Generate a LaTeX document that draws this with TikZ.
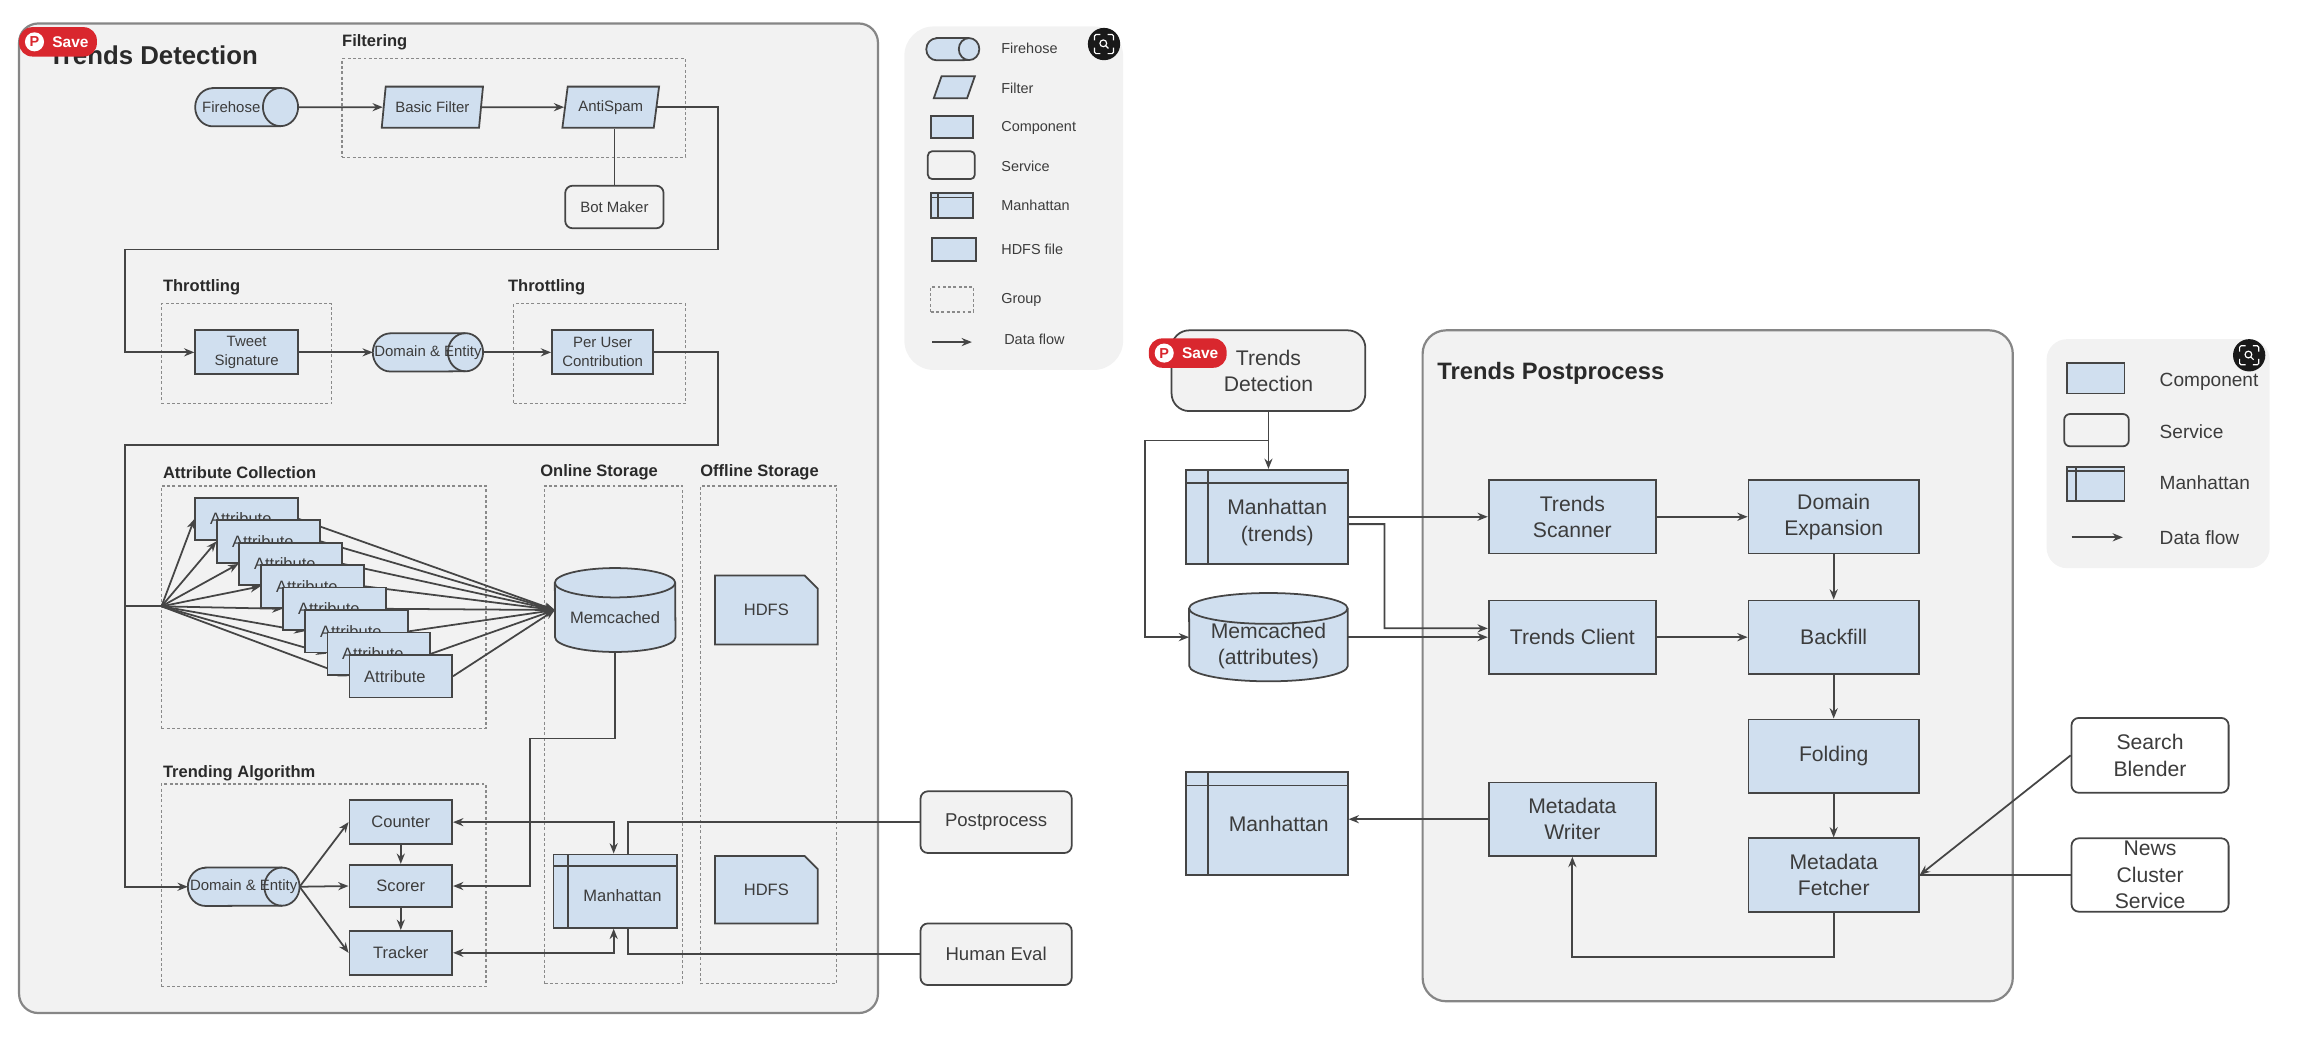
\documentclass[tikz,border=0pt]{standalone}
\usepackage{fontspec}
\setmainfont{Liberation Sans}
\usetikzlibrary{arrows.meta,shapes.geometric,shapes.misc}
\definecolor{compc}{HTML}{D0DFEF}
\definecolor{panelc}{HTML}{F2F2F2}
\definecolor{linec}{HTML}{454545}
\definecolor{textc}{HTML}{3C3C3C}
\definecolor{grpc}{HTML}{8A8A8A}
\definecolor{savec}{HTML}{D9272E}
\newcommand{\smtxt}{\fontsize{29pt}{37pt}\selectfont}
\newcommand{\midtxt}{\fontsize{32pt}{38pt}\selectfont}
\newcommand{\svctxt}{\fontsize{36pt}{40pt}\selectfont}
\newcommand{\bigtxt}{\fontsize{41pt}{51pt}\selectfont}
\newcommand{\legtxt}{\fontsize{28pt}{34pt}\selectfont}
\newcommand{\legbig}{\fontsize{37pt}{44pt}\selectfont}
\newcommand{\headtxt}{\fontsize{32pt}{38pt}\selectfont\bfseries}
\pgfdeclarelayer{panels}
\pgfdeclarelayer{links}
\pgfsetlayers{panels,links,main}
\tikzset{
  ln/.style={draw=linec,line width=1.2mm},
  ar/.style={ln,-{Stealth[length=7mm,width=5.5mm]}},
  arb/.style={ln,{Stealth[length=7mm,width=5.5mm]}-{Stealth[length=7mm,width=5.5mm]}},
  base/.style={draw=linec,line width=1.2mm,text=textc,align=center,inner sep=0pt,font=\smtxt},
  txt/.style={base,draw=none},
  comp/.style={base,rectangle,fill=compc},
  svc/.style={base,rectangle,rounded corners=5mm,fill=panelc},
  filt/.style={base,trapezium,fill=compc,trapezium left angle=74,trapezium right angle=106,trapezium stretches=true},
  % side-on cylinder: end radius, half height
  hcyl/.style 2 args={rectangle,inner sep=0pt,append after command={\pgfextra{
    \let\cylnode\tikzlastnode
    \draw[base,fill=compc] ([xshift=#1mm]\cylnode.north west)--([xshift=-#1mm]\cylnode.north east)
      arc (90:-90:#1mm and #2mm)--([xshift=#1mm]\cylnode.south west) arc (270:90:#1mm and #2mm)--cycle;
    \draw[base] ([xshift=-#1mm]\cylnode.north east) arc (90:270:#1mm and #2mm);}}},
  % upright cylinder: half width, lid radius
  hcan/.style 2 args={rectangle,inner sep=0pt,append after command={\pgfextra{
    \let\cylnode\tikzlastnode
    \draw[base,fill=compc] ([yshift=-#2mm]\cylnode.north west) arc (180:0:#1mm and #2mm)
      --([yshift=#2mm]\cylnode.south east) arc (0:-180:#1mm and #2mm)--cycle;
    \draw[base] ([yshift=-#2mm]\cylnode.north west) arc (180:360:#1mm and #2mm);}}},
  hdfs/.style={base,chamfered rectangle,fill=compc,chamfered rectangle corners=north east,chamfered rectangle xsep=5mm,chamfered rectangle ysep=5mm},
  manh/.style 2 args={comp,path picture={
    \draw[ln] ([xshift=#1mm]path picture bounding box.north west)--([xshift=#1mm]path picture bounding box.south west);
    \draw[ln] ([yshift=-#2mm]path picture bounding box.north west)--([yshift=-#2mm]path picture bounding box.north east);}},
  grp/.style={draw=grpc,line width=.8mm,dash pattern=on 2mm off 1.6mm,rectangle},
  panel/.style={draw=gray!95,line width=1.5mm,fill=panelc,rectangle},
  head/.style={anchor=west,text=textc!70!black,font=\headtxt,inner sep=0pt},
  legl/.style={anchor=west,text=textc,font=\legtxt,inner sep=0pt},
  legr/.style={anchor=west,text=textc,font=\legbig,inner sep=0pt},
  savebtn/.pic={
    \node (pill) [rectangle,rounded corners=9mm,fill=savec,minimum width=53mm,minimum height=20mm] at (0,0) {};
    \fill[white] (-16,0) circle (6.5);
    \node (pee) [text=savec,font=\fontsize{28pt}{28pt}\selectfont\bfseries,inner sep=0pt] at (-16,0) {P};
    \node (word) [text=white,font=\fontsize{30pt}{30pt}\selectfont\bfseries,inner sep=0pt] at (8.5,0) {Save};
  },
  lens/.pic={
    \fill[black!90] (0,0) circle (11);
    \draw[white,line width=.8mm,rounded corners=1mm] (-6.5,-2.5)--(-6.5,-6.5)--(-2.5,-6.5) (2.5,-6.5)--(6.5,-6.5)--(6.5,-2.5) (6.5,2.5)--(6.5,6.5)--(2.5,6.5) (-2.5,6.5)--(-6.5,6.5)--(-6.5,2.5);
    \draw[white,line width=.8mm] (-.5,-.5) circle (2.3) (1.2,1.2)--(3,3);
  }
}
\begin{document}
\begin{tikzpicture}[x=1mm,y=-1mm]
\useasboundingbox (0,0) rectangle (1568,706);
\begin{pgfonlayer}{panels}
\node (detpanel) [panel,rounded corners=13mm,minimum width=585mm,minimum height=674mm] at (305.5,353) {};
\node (postpanel) [panel,rounded corners=16mm,minimum width=402mm,minimum height=457mm] at (1170,453.5) {};
\node (legleft) [rectangle,fill=panelc,rounded corners=20mm,minimum width=149mm,minimum height=234mm] at (690.5,135) {};
\node (legright) [rectangle,fill=panelc,rounded corners=14mm,minimum width=152mm,minimum height=156mm] at (1470,309) {};
\node (filtgrp) [grp,minimum width=234mm,minimum height=67mm] at (350,73.5) {};
\node (thrgrpa) [grp,minimum width=116mm,minimum height=68mm] at (168,241) {};
\node (thrgrpb) [grp,minimum width=117mm,minimum height=68mm] at (408.5,241) {};
\node (attrgrp) [grp,minimum width=221mm,minimum height=165mm] at (220.5,413.5) {};
\node (onlgrp) [grp,minimum width=94mm,minimum height=339mm] at (418,500.5) {};
\node (offgrp) [grp,minimum width=93mm,minimum height=339mm] at (523.5,500.5) {};
\node (trdgrp) [grp,minimum width=221mm,minimum height=138mm] at (220.5,603) {};
\end{pgfonlayer}
\node (dettitle) [head,font=\fontsize{50pt}{50pt}\selectfont\bfseries] at (33,37.5) {Trends Detection};
\node (filthead) [head] at (233,29) {Filtering};
\node (thrheada) [head] at (111,196) {Throttling};
\node (thrheadb) [head] at (346,196) {Throttling};
\node (attrhead) [head] at (111,322) {Attribute Collection};
\node (onlhead) [head] at (368,322) {Online Storage};
\node (offhead) [head] at (477,322) {Offline Storage};
\node (trdhead) [head] at (111,527) {Trending Algorithm};
\node (posthead) [head,font=\fontsize{46pt}{46pt}\selectfont\bfseries] at (979,254) {Trends Postprocess};
% filtering row
\node (fire) [hcyl={12}{13},minimum width=70mm,minimum height=26mm,label={[txt,xshift=-10.5mm]center:Firehose}] at (168,73) {};
\node (basic) [filt,minimum width=69mm,minimum height=28mm] at (294.5,73) {Basic Filter};
\node (spam) [filt,minimum width=66mm,minimum height=28mm] at (416,73) {AntiSpam};
\node (bot) [svc,minimum width=67mm,minimum height=29mm] at (418.5,141) {Bot Maker};
% throttling row
\node (tweet) [comp,minimum width=70mm,minimum height=30mm] at (168,240) {Tweet\\Signature};
\node (doma) [hcyl={12}{13},minimum width=75mm,minimum height=26mm,label={[txt]center:Domain \& Entity}] at (291.5,240) {};
\node (peruser) [comp,minimum width=69mm,minimum height=30mm] at (410.5,240) {Per User\\Contribution};
% attributes
\foreach \i in {0,...,7}
  \node (attr\i) [comp,font=\midtxt,minimum width=70mm,minimum height=29mm] at ({168+15*\i},{353.5+15.3*\i}) {Attribute\hspace*{8mm}};
\node (memb) [hcan={41}{10},minimum width=82mm,minimum height=57mm,label={[txt,font=\midtxt,yshift=-5mm]center:Memcached}] at (419,415.5) {};
\node (hdfsa) [hdfs,font=\midtxt,minimum width=70mm,minimum height=47mm] at (522,415.5) {HDFS};
% trending
\node (domb) [hcyl={12}{13},minimum width=76mm,minimum height=26mm,label={[txt]center:Domain \& Entity}] at (166,604) {};
\node (counter) [comp,font=\midtxt,minimum width=70mm,minimum height=30mm] at (273,560) {Counter};
\node (scorer) [comp,font=\midtxt,minimum width=70mm,minimum height=29mm] at (273,603.5) {Scorer};
\node (tracker) [comp,font=\midtxt,minimum width=70mm,minimum height=30mm] at (273,649) {Tracker};
\node (mhleft) [manh={10}{8},minimum width=84mm,minimum height=50mm,label={[txt,font=\midtxt,xshift=5mm,yshift=-3mm]center:Manhattan}] at (419,607) {};
\node (hdfsb) [hdfs,font=\midtxt,minimum width=70mm,minimum height=46mm] at (522,606) {HDFS};
\node (postp) [svc,font=\svctxt,minimum width=103mm,minimum height=42mm] at (678.5,560) {Postprocess};
\node (human) [svc,font=\svctxt,minimum width=103mm,minimum height=42mm] at (678.5,650) {Human Eval};
% left legend
\node (lfire) [hcyl={7}{7.5},minimum width=36mm,minimum height=15mm] at (649,33.5) {};
\node (lfilt) [filt,minimum width=28mm,minimum height=15mm] at (650,59.5) {\phantom{x}};
\node (lcomp) [comp,minimum width=29mm,minimum height=15mm] at (648.5,86.5) {};
\node (lsvc) [svc,rounded corners=3mm,minimum width=32mm,minimum height=19mm] at (648,112.5) {};
\node (lmanh) [manh={5}{3},minimum width=29mm,minimum height=17mm] at (648.5,140) {};
\node (lhdfs) [hdfs,chamfered rectangle xsep=2mm,chamfered rectangle ysep=2mm,minimum width=30mm,minimum height=16mm] at (650,170) {};
\node (lgrp) [grp,minimum width=29mm,minimum height=17mm] at (648.5,204) {};
\node (ltfire) [legl] at (682,33) {Firehose};
\node (ltfilt) [legl] at (682,60) {Filter};
\node (ltcomp) [legl] at (682,87) {Component};
\node (ltsvc) [legl] at (682,113) {Service};
\node (ltmanh) [legl] at (682,140) {Manhattan};
\node (lthdfs) [legl] at (682,170) {HDFS file};
\node (ltgrp) [legl] at (682,204) {Group};
\node (ltflow) [legl] at (684,231) {Data flow};
\coordinate (lfrom) at (635,233);
\coordinate (lto) at (662,233);
\draw[ar] (lfrom)--(lto);
% right side
\node (det) [svc,rounded corners=12mm,font=\bigtxt,minimum width=132mm,minimum height=55mm] at (864,252.5) {Trends\\Detection};
\node (mhtr) [manh={15}{9},font=\bigtxt,minimum width=110mm,minimum height=64mm,label={[txt,font=\bigtxt,xshift=7mm,yshift=-4mm]center:Manhattan\\(trends)}] at (863,352) {};
\node (mema) [hcan={54}{10.5},minimum width=108mm,minimum height=60mm,label={[txt,font=\bigtxt,yshift=-6mm]center:Memcached\\(attributes)}] at (864,434) {};
\node (mhout) [manh={15}{9},font=\bigtxt,minimum width=110mm,minimum height=70mm,label={[txt,font=\bigtxt,xshift=8mm]center:Manhattan}] at (863,561) {};
\node (scan) [comp,font=\bigtxt,minimum width=114mm,minimum height=50mm] at (1071,352) {Trends\\Scanner};
\node (client) [comp,font=\bigtxt,minimum width=114mm,minimum height=50mm] at (1071,434) {Trends Client};
\node (writer) [comp,font=\bigtxt,minimum width=114mm,minimum height=50mm] at (1071,558) {Metadata\\Writer};
\node (expand) [comp,font=\bigtxt,minimum width=116mm,minimum height=50mm] at (1249,352) {Domain\\Expansion};
\node (backf) [comp,font=\bigtxt,minimum width=116mm,minimum height=50mm] at (1249,434) {Backfill};
\node (fold) [comp,font=\bigtxt,minimum width=116mm,minimum height=50mm] at (1249,515) {Folding};
\node (fetch) [comp,font=\bigtxt,minimum width=116mm,minimum height=50mm] at (1249,596) {Metadata\\Fetcher};
\node (search) [svc,fill=white,font=\bigtxt,minimum width=107mm,minimum height=51mm] at (1464.5,514.5) {Search\\Blender};
\node (news) [svc,fill=white,font=\bigtxt,minimum width=107mm,minimum height=50mm] at (1464.5,596) {News\\Cluster\\Service};
% right legend
\node (rcomp) [comp,minimum width=39mm,minimum height=21mm] at (1427.5,257.5) {};
\node (rsvc) [svc,rounded corners=4mm,minimum width=44mm,minimum height=22mm] at (1428,293) {};
\node (rmanh) [manh={6}{3},minimum width=39mm,minimum height=23mm] at (1427.5,329.5) {};
\node (rtcomp) [legr] at (1471,260) {Component};
\node (rtsvc) [legr] at (1471,294) {Service};
\node (rtmanh) [legr] at (1471,329) {Manhattan};
\node (rtflow) [legr] at (1471,366) {Data flow};
\coordinate (rfrom) at (1411,366);
\coordinate (rto) at (1446,366);
\draw[ar] (rfrom)--(rto);
% free bends of the long links
\coordinate (bna) at (489,170);
\coordinate (bnb) at (85,170);
\coordinate (bnc) at (489,303);
\coordinate (bnd) at (85,303);
\coordinate (hub) at (110,413);
\coordinate (bne) at (361,503);
\coordinate (bnf) at (943,428);
\coordinate (bng) at (864,300);
\coordinate (bnh) at (780,300);
\coordinate (bni) at (1071,652);
\begin{pgfonlayer}{links}
\draw[ar] (fire.east)--(basic.west);
\draw[ar] (basic.east)--(spam.west);
\draw[ln] (bot.north|-spam.south)--(bot.north);
\draw[ar] (spam.east)-|(bna)--(bnb)|-(tweet.west);
\draw[ar] (tweet.east)--(doma.west);
\draw[ar] (doma.east)--(peruser.west);
\draw[ar] (peruser.east)-|(bnc)--(bnd)|-(domb.west);
\draw[ln] (bnd)|-(hub);
\foreach \i in {0,...,7}{
  \draw[ar] (hub)--(attr\i.west);
  \draw[ar] (attr\i.east)--(memb.west);
}
\draw[ar] (domb.east)--(counter.west);
\draw[ar] (domb.east)--(scorer.west);
\draw[ar] (domb.east)--(tracker.west);
\draw[ar] (counter)--(scorer);
\draw[ar] (scorer)--(tracker);
\draw[arb] (counter.east)-|([xshift=-1mm]mhleft.north);
\draw[arb] (tracker.east)-|([xshift=-1mm]mhleft.south);
\draw[ar] (memb.south)|-(bne)|-(scorer.east);
\draw[ln] ([xshift=9mm]mhleft.north)|-(postp.west);
\draw[ln] ([xshift=9mm]mhleft.south)|-(human.west);
\draw[ar] (det.south)--(det.south|-mhtr.north);
\draw[ar] (bng)--(bnh)|-(mema.west);
\draw[ar] (mhtr.east)--(scan.west);
\draw[ar] ([yshift=-5mm]mhtr.east)-|(bnf)--([yshift=6mm]client.west);
\draw[ar] (mema.east)--(client.west);
\draw[ar] (scan)--(expand);
\draw[ar] (client)--(backf);
\draw[ar] (expand)--(backf);
\draw[ar] (backf)--(fold);
\draw[ar] (fold)--(fetch);
\draw[ar] (fetch.south)|-(bni)--(writer.south);
\draw[ar] (writer.west)--(mhout.east|-writer.west);
\draw[ar] (search.west)--(fetch.east);
\draw[ln] (news.west)--(fetch.east);
\end{pgfonlayer}
% image overlays
\pic (savea) at (39.5,28.5) {savebtn};
\pic (saveb) at (809,240.5) {savebtn};
\pic (lensa) at (752,30) {lens};
\pic (lensb) at (1532,242) {lens};
\end{tikzpicture}
\end{document}
